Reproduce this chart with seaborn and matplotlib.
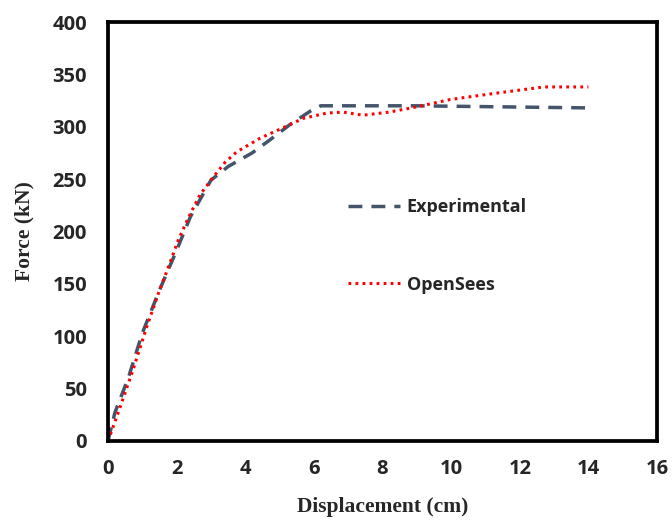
import matplotlib
matplotlib.use("Agg")
import matplotlib.pyplot as plt
import seaborn as sns
import pandas as pd

# Data
exp_x = [0, 0.2, 0.6, 1.0, 1.5, 2.0, 2.4, 3.0, 3.5, 4.2, 4.7, 5.3, 5.9, 6.2, 9.0, 14.0]
exp_y = [0, 27, 61, 103, 144, 182, 214, 249, 262, 275, 287, 302, 315, 320, 320, 318]

ops_x = [0, 0.1, 0.35, 0.73, 1.13, 1.47, 1.76, 2.05, 2.34, 2.68, 3.07, 3.41, 3.75, 4.43,
         5.1, 5.69, 6.37, 6.85, 7.43, 8.2, 9.0, 9.97, 11.3, 12.7, 14.0]
ops_y = [0, 9, 32, 68, 109, 141, 166, 192, 213, 235, 252, 266, 276, 289,
         299, 308, 313, 314, 311, 314, 319, 326, 332, 338, 338]

x_ticks = [0, 2, 4, 6, 8, 10, 12, 14, 16]
y_ticks = [0, 50, 100, 150, 200, 250, 300, 350, 400]

sns.set_style("white")
plt.rcParams['font.family'] = ['Open Sans', 'DejaVu Sans']

fig = plt.figure(figsize=(6.72, 5.21), dpi=100)
ax = fig.add_axes([108/672, 80/521, 549/672, 419/521])

df_exp = pd.DataFrame({"x": exp_x, "y": exp_y})
df_ops = pd.DataFrame({"x": ops_x, "y": ops_y})

sns.lineplot(data=df_exp, x="x", y="y", sort=False, estimator=None, ax=ax,
             color="#44546A", linewidth=2.5, label="Experimental")
sns.lineplot(data=df_ops, x="x", y="y", sort=False, estimator=None, ax=ax,
             color="#FF0000", linewidth=2.2, label="OpenSees")
ax.lines[0].set_dashes((4, 2.6))
ax.lines[1].set_dashes((0.9, 1.4))

ax.set_xlim(0, 16)
ax.set_ylim(0, 400)
ax.set_xticks(x_ticks)
ax.set_yticks(y_ticks)
ax.set_xticklabels([str(v) for v in x_ticks], fontweight='bold', fontsize=14.5)
ax.set_yticklabels([str(v) for v in y_ticks], fontweight='bold', fontsize=14.5)
ax.tick_params(axis='both', direction='in', length=5, width=2.5, color='black')
ax.tick_params(axis='x', pad=13)
ax.tick_params(axis='y', pad=15)

for s in ax.spines.values():
    s.set_visible(True)
    s.set_linewidth(2.7)
    s.set_color('black')

ax.set_xlabel("Displacement (cm)", family='Liberation Serif', fontweight='bold', fontsize=15.5, labelpad=13)
ax.set_ylabel("Force (kN)", family='Liberation Serif', fontweight='bold', fontsize=15.5, labelpad=13)

leg = ax.legend(loc='center left', bbox_to_anchor=(0.437, 0.4655), frameon=False,
                borderpad=0, borderaxespad=0, handlelength=2.9, handletextpad=0.35,
                labelspacing=3.3, prop={'family': 'Open Sans', 'weight': 'bold', 'size': 13})

fig.savefig("out.png", dpi=100)
